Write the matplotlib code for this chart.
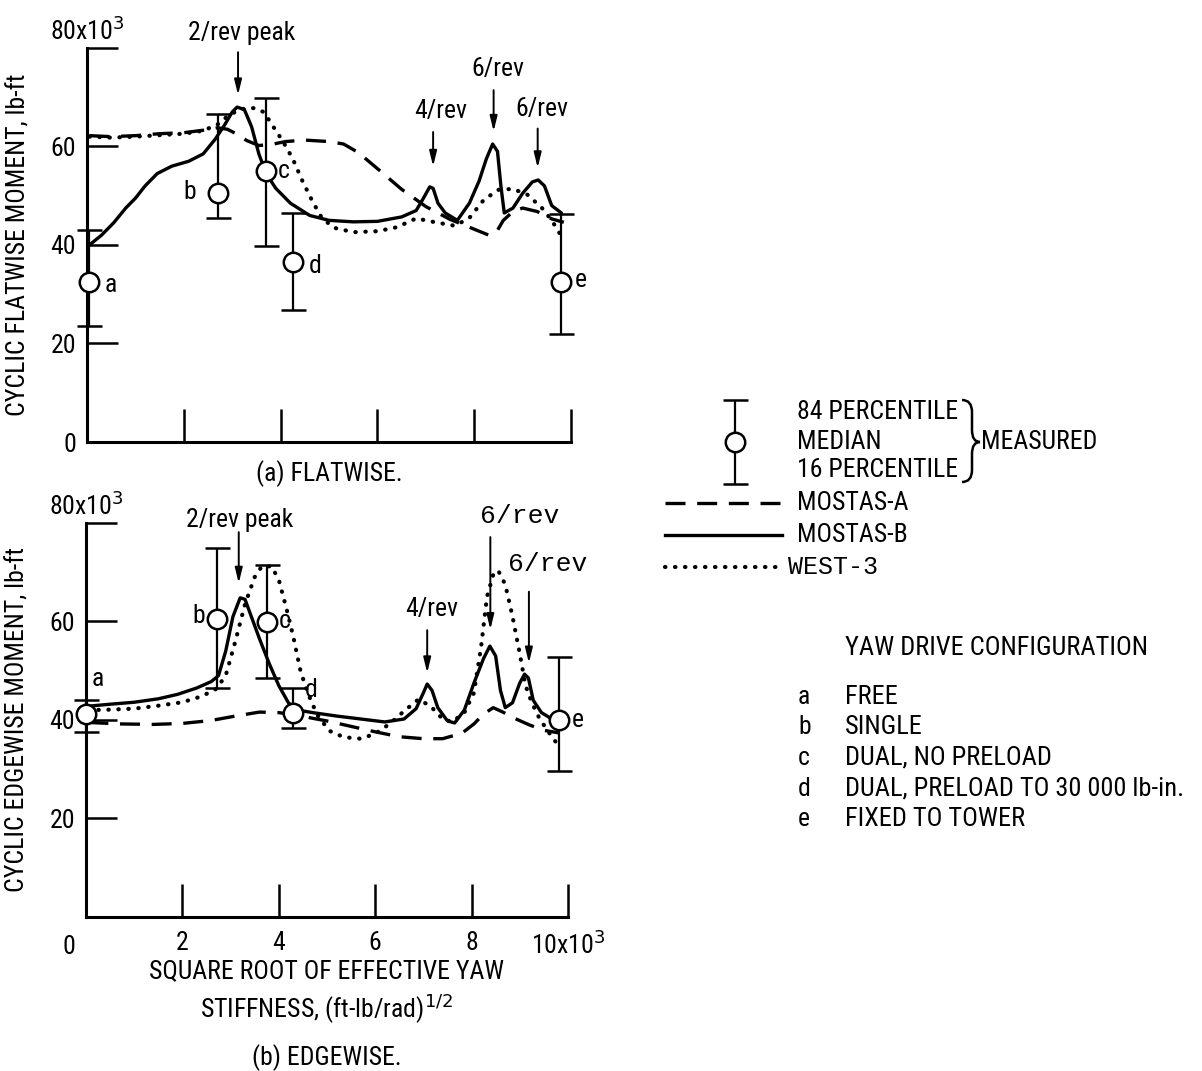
import matplotlib
matplotlib.use('Agg')
import matplotlib.pyplot as plt
from matplotlib.path import Path
from matplotlib.patches import PathPatch

plt.rcParams['font.family'] = ['Roboto Condensed', 'Liberation Sans Narrow', 'Roboto', 'DejaVu Sans']
MONO = ['Liberation Mono', 'DejaVu Sans Mono']

# ── data (x in 10^3 (ft-lb/rad)^1/2, y in 10^3 lb-ft) ──
# (a) flatwise
flat_b_x = [0.05, 0.3, 0.55, 0.8, 1.0, 1.2, 1.45, 1.75, 2.1, 2.4, 2.65, 2.85, 3.0, 3.1, 3.25,
            3.4, 3.55, 3.7, 3.9, 4.2, 4.6, 5.0, 5.5, 6.0, 6.5, 6.8, 6.95, 7.08, 7.15, 7.25,
            7.4, 7.65, 7.9, 8.1, 8.25, 8.38, 8.48, 8.55, 8.62, 8.8, 9.0, 9.2, 9.32, 9.45, 9.6, 9.8]
flat_b_y = [40, 42, 44.5, 47.5, 49.5, 52, 54.5, 56, 57, 58.5, 61.5, 64.5, 67, 68, 67.5,
            64, 58.5, 54.5, 51.5, 48.5, 46, 45, 44.7, 44.8, 45.7, 47, 49.5, 51.8, 51.5, 48.5,
            46.5, 45, 48.5, 53, 57.5, 60.5, 59, 52, 46.5, 47.5, 50.5, 52.8, 53.2, 52, 48, 46.5]
flat_a_x = [0.05, 0.5, 1.0, 1.5, 2.0, 2.4, 2.7, 2.9, 3.1, 3.3, 3.55, 3.8, 4.1, 4.5, 5.0,
            5.3, 5.6, 6.0, 6.5, 7.0, 7.5, 8.0, 8.3, 8.45, 8.6, 8.8, 9.0, 9.3, 9.6, 9.85]
flat_a_y = [62.2, 62.0, 62.2, 62.6, 62.8, 63.3, 63.8, 63.5, 62.5, 61.2, 60.2, 60.4, 61.0, 61.3, 61.0,
            60.5, 58.8, 55.5, 51.3, 47.8, 45.2, 43.2, 42.0, 42.5, 45.0, 46.8, 47.5, 46.8, 45.3, 44.6]
flat_w_x = [0.05, 0.5, 1.0, 1.5, 2.0, 2.4, 2.7, 2.95, 3.2, 3.45, 3.65, 3.85, 4.05, 4.25, 4.45,
            4.65, 4.85, 5.1, 5.5, 6.0, 6.4, 6.8, 7.2, 7.6, 7.9, 8.2, 8.5, 8.8, 9.1, 9.4, 9.6, 9.8]
flat_w_y = [62, 61.8, 62, 62.3, 62.6, 63.2, 64.5, 66.5, 67.6, 67.8, 67, 64, 61, 57.5, 53,
            49, 45.5, 43.5, 42.6, 42.8, 43.6, 45.4, 44.6, 43.9, 45.5, 49.2, 51.2, 51.4, 50.2, 47.5, 45, 41.8]

# (b) edgewise
edge_b_x = [0.05, 0.5, 1.0, 1.5, 1.9, 2.3, 2.6, 2.75, 2.9, 3.05, 3.2, 3.3, 3.45, 3.6, 3.8,
            4.0, 4.2, 4.4, 4.7, 5.2, 5.7, 6.2, 6.6, 6.85, 7.0, 7.08, 7.18, 7.3, 7.5, 7.65,
            7.85, 8.05, 8.25, 8.38, 8.5, 8.6, 8.7, 8.85, 9.0, 9.1, 9.18, 9.28, 9.45, 9.65, 9.8]
edge_b_y = [42.8, 43.2, 43.6, 44.3, 45.2, 46.5, 47.8, 49, 54, 61, 64.8, 64.5, 60.5, 56.5, 51.5,
            47, 43.5, 42, 41.5, 40.8, 40.2, 39.6, 40.2, 42.3, 45.5, 47.3, 46, 42.5, 39.8, 39.4,
            42, 47.5, 52.5, 55, 53, 46, 42.5, 43.5, 47.5, 49.3, 48.5, 44, 41.5, 40.3, 39.9]
edge_a_x = [0.05, 0.7, 1.4, 2.0, 2.6, 3.1, 3.6, 4.0, 4.4, 5.0, 5.5, 6.0, 6.5, 7.0, 7.4,
            7.8, 8.05, 8.25, 8.45, 8.65, 8.9, 9.2, 9.5, 9.8]
edge_a_y = [39.5, 39.2, 39.1, 39.3, 39.9, 40.8, 41.6, 41.5, 40.9, 39.8, 38.7, 37.6, 36.6, 36.2, 36.2,
            37.3, 39.2, 41.2, 42.5, 41.6, 40.3, 39.0, 37.9, 37.4]
edge_w_x = [0.05, 0.5, 1.0, 1.5, 2.0, 2.4, 2.7, 2.9, 3.1, 3.3, 3.5, 3.65, 3.85, 4.0, 4.15,
            4.3, 4.45, 4.6, 4.8, 5.05, 5.35, 5.7, 6.0, 6.3, 6.6, 6.9, 7.15, 7.4, 7.6, 7.85,
            8.05, 8.2, 8.32, 8.45, 8.55, 8.7, 8.85, 9.0, 9.12, 9.25, 9.4, 9.55, 9.75]
edge_w_y = [42, 42.1, 42.3, 42.9, 43.6, 44.8, 46.3, 49, 56, 63.5, 69, 71.2, 71.2, 68.5, 63,
            57, 50, 45.5, 41, 37.8, 36.5, 36.2, 37.2, 39.2, 41.8, 44.2, 42.8, 40.2, 39.6, 41.5,
            45.5, 55, 65, 69.5, 70.4, 67.5, 61, 53.5, 47, 43.5, 40.5, 38.2, 35.5]

# measured: median with 16 / 84 percentile
config = ['a', 'b', 'c', 'd', 'e']
flat_meas_x = [0.05, 2.7, 3.7, 4.25, 9.8]
flat_med = [32.5, 50.5, 55, 36.5, 32.5]
flat_p84 = [43, 66.5, 69.8, 46.5, 46.3]
flat_p16 = [23.5, 45.5, 39.7, 26.7, 22]
edge_meas_x = [0.0, 2.72, 3.75, 4.3, 9.82]
edge_med = [41.2, 60.5, 59.8, 41.5, 40]
edge_p84 = [44.1, 75, 71.5, 46.5, 52.7]
edge_p16 = [37.6, 46.5, 48.5, 38.3, 29.6]

config_names = ['FREE', 'SINGLE', 'DUAL, NO PRELOAD',
                'DUAL, PRELOAD TO 30 000 lb-in.', 'FIXED TO TOWER']

# label positions for a..e and peak annotations (text x, text y, arrow x, arrow from, arrow to)
flat_letter_pos = [(0.5, 31.8), (2.13, 50.7), (4.07, 55), (4.71, 35.8), (10.2, 32.8)]
edge_letter_pos = [(0.24, 48.3), (2.33, 61.1), (4.13, 60.1), (4.68, 46), (10.2, 39.9)]
flat_peaks = [('2/rev peak', 3.19, 83.1, 3.12, 79.7, 69.9, False),
              ('4/rev', 7.3, 67.2, 7.15, 63.5, 55.4, False),
              ('6/rev', 8.48, 75.7, 8.4, 72, 62.5, False),
              ('6/rev', 9.39, 67.6, 9.31, 64.2, 55.1, False)]
edge_peaks = [('2/rev peak', 3.19, 80.7, 3.17, 78.7, 67.2, False),
              ('4/rev', 7.18, 62.5, 7.08, 58.8, 49, False),
              ('6/rev', 8.99, 81.4, 8.39, 77.7, 57.8, True),
              ('6/rev', 9.58, 71.6, 9.19, 66.6, 51, True)]

FS = 18.5
LW = 2.4
DASH = (0, (6, 3.5))
DOT = (0, (0.1, 2.3))

fig = plt.figure(figsize=(12.02, 10.71), dpi=100)
ax1 = fig.add_axes([0.0724, 0.5873, 0.4027, 0.3679])
ax2 = fig.add_axes([0.0715, 0.1438, 0.4010, 0.3679])


def draw_panel(ax, bx, by, axx, ayy, wx, wy, mx, med, p84, p16, letters, peaks):
    ax.plot(bx, by, color='black', lw=LW, solid_capstyle='round')
    ax.plot(axx, ayy, color='black', lw=LW, linestyle=DASH)
    ax.plot(wx, wy, color='black', lw=3.0, linestyle=DOT, dash_capstyle='round')
    yerr = [[m - lo for m, lo in zip(med, p16)], [hi - m for m, hi in zip(med, p84)]]
    ax.errorbar(mx, med, yerr=yerr, fmt='o', ms=14, mfc='white', mec='black', mew=1.8,
                ecolor='black', elinewidth=1.6, capsize=9, capthick=1.8, zorder=5, clip_on=False)
    for lab, (lx, ly) in zip(config, letters):
        ax.text(lx, ly, lab, fontsize=FS, ha='center', va='center')
    for txt, tx, ty, ax_x, y0, y1, mono in peaks:
        if mono:
            ax.text(tx, ty, txt, fontsize=19, ha='center', va='center', family=MONO)
        else:
            ax.text(tx, ty, txt, fontsize=FS, ha='center', va='center')
        ax.annotate('', xy=(ax_x, y1), xytext=(ax_x, y0), annotation_clip=False,
                    arrowprops=dict(arrowstyle='-|>,head_length=0.9,head_width=0.22',
                                    color='black', lw=1.4))
    ax.set_xlim(0, 10)
    ax.set_ylim(0, 80)
    for s in ['top', 'right']:
        ax.spines[s].set_visible(False)
    for s in ['left', 'bottom']:
        ax.spines[s].set_linewidth(2.2)
    ax.tick_params(axis='y', direction='in', length=22, width=1.8, labelsize=FS, pad=8)
    ax.tick_params(axis='x', direction='in', length=24, width=1.8, labelsize=FS, pad=10)
    ax.annotate('80x10$^3$', xy=(0, 80), xytext=(0, 2), textcoords='offset points',
                ha='center', va='bottom', fontsize=FS, annotation_clip=False)


draw_panel(ax1, flat_b_x, flat_b_y, flat_a_x, flat_a_y, flat_w_x, flat_w_y,
           flat_meas_x, flat_med, flat_p84, flat_p16, flat_letter_pos, flat_peaks)
draw_panel(ax2, edge_b_x, edge_b_y, edge_a_x, edge_a_y, edge_w_x, edge_w_y,
           edge_meas_x, edge_med, edge_p84, edge_p16, edge_letter_pos, edge_peaks)

ax1.set_yticks([0, 20, 40, 60, 80], ['0', '20', '40', '60', ''])
ax1.set_xticks([2, 4, 6, 8, 10], [''] * 5)
ax1.set_ylabel('CYCLIC FLATWISE MOMENT, lb-ft', fontsize=FS, labelpad=14)
ax1.text(5, -6.5, '(a) FLATWISE.', fontsize=FS, ha='center', va='center')

ax2.set_yticks([20, 40, 60, 80], ['20', '40', '60', ''])
ax2.set_xticks([2, 4, 6, 8, 10], ['2', '4', '6', '8', '10x10$^3$'])
ax2.annotate('0', xy=(0, 0), xytext=(-12, -13), textcoords='offset points',
             ha='center', va='top', fontsize=FS, annotation_clip=False)
ax2.set_ylabel('CYCLIC EDGEWISE MOMENT, lb-ft', fontsize=FS, labelpad=14)
ax2.set_xlabel('SQUARE ROOT OF EFFECTIVE YAW\nSTIFFNESS, (ft-lb/rad)$^{1/2}$',
               fontsize=FS, labelpad=0, linespacing=1.3)
fig.text(327 / 1202, 1 - 1058 / 1071, '(b) EDGEWISE.', fontsize=FS, ha='center', va='center')

# ── legend and key, drawn in pixel coordinates ──
lg = fig.add_axes([0, 0, 1, 1], zorder=-1)
lg.set_xlim(0, 1202)
lg.set_ylim(1071, 0)
lg.axis('off')
lg.errorbar([735], [442], yerr=[[42], [42]], fmt='o', ms=14, mfc='white', mec='black', mew=1.8,
            ecolor='black', elinewidth=1.6, capsize=9, capthick=1.8)
for txt, yy in [('84 PERCENTILE', 412), ('MEDIAN', 442), ('16 PERCENTILE', 470)]:
    lg.text(797, yy, txt, fontsize=FS, va='center')
brace = Path([(962, 400), (972, 400), (972, 412), (972, 430), (972, 442), (980, 442),
              (972, 442), (972, 454), (972, 470), (972, 482), (962, 482)],
             [Path.MOVETO, Path.CURVE3, Path.CURVE3, Path.LINETO, Path.CURVE3, Path.CURVE3,
              Path.CURVE3, Path.CURVE3, Path.LINETO, Path.CURVE3, Path.CURVE3])
lg.add_patch(PathPatch(brace, fill=False, lw=1.8, color='black'))
lg.text(981, 442, 'MEASURED', fontsize=FS, va='center')
lg.plot([665, 782], [503, 503], color='black', lw=LW, linestyle=DASH)
lg.plot([665, 782], [535, 535], color='black', lw=LW)
lg.plot([665, 782], [567, 567], color='black', lw=3.0, linestyle=DOT, dash_capstyle='round')
lg.text(797, 503, 'MOSTAS-A', fontsize=FS, va='center')
lg.text(797, 535, 'MOSTAS-B', fontsize=FS, va='center')
lg.text(788, 567, 'WEST-3', fontsize=18, va='center', family=MONO)

lg.text(845, 648, 'YAW DRIVE CONFIGURATION', fontsize=19, va='center')
for i, (lab, name) in enumerate(zip(config, config_names)):
    yy = 697 + i * 30.5
    lg.text(798, yy, lab, fontsize=FS, va='center')
    lg.text(845, yy, name, fontsize=19, va='center')

fig.savefig('out.png', dpi=100)
